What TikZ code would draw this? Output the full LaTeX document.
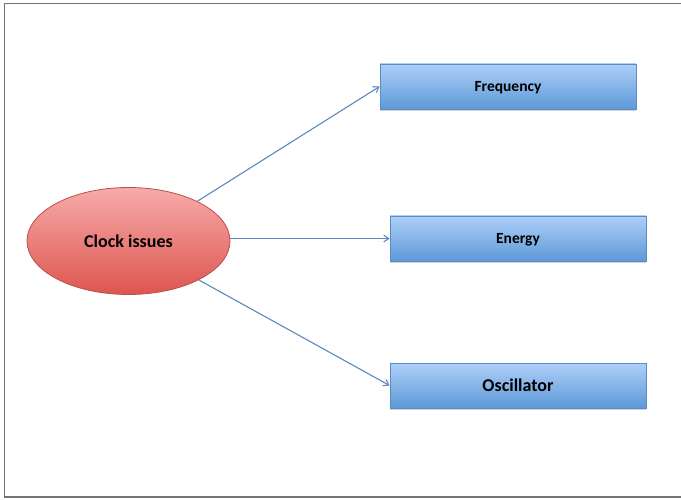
\documentclass[tikz,border=0pt]{standalone}
\usepackage{fontspec}
\setmainfont{Carlito}
\usetikzlibrary{arrows.meta,shadows,shapes.geometric}

\definecolor{boxtop}{HTML}{AECFF8}
\definecolor{boxbot}{HTML}{5D99D8}
\definecolor{boxline}{HTML}{5A8CC6}
\definecolor{elltop}{HTML}{F7ABAA}
\definecolor{ellbot}{HTML}{DD5550}
\definecolor{ellline}{HTML}{B8504C}
\definecolor{arcline}{HTML}{5B89BE}

\begin{document}
\begin{tikzpicture}[
  x=1pt,y=-1pt,
  >={Straight Barb[length=5pt,width=7pt]},
  topic/.style={rectangle,draw=boxline,line width=0.8pt,top color=boxtop,bottom color=boxbot,
    minimum width=256pt,minimum height=45pt,inner sep=0pt,text depth=0pt,font=\bfseries,
    drop shadow={shadow xshift=0pt,shadow yshift=-2pt,opacity=0.35}},
  hub/.style={ellipse,draw=ellline,line width=0.8pt,top color=elltop,bottom color=ellbot,
    minimum width=203pt,minimum height=107pt,inner sep=0pt,font=\bfseries\fontsize{18}{20}\selectfont},
  arc/.style={->,line width=1.1pt,draw=arcline}
]
\useasboundingbox (0,0) rectangle (681,500);
\draw[line width=1.5pt,draw=black!55] (681,3.5) -- (4.5,3.5) -- (4.5,497) -- (681,497);
\node[hub] (clock) at (128.5,241) {Clock issues};
\node[topic,font=\bfseries\fontsize{15.5}{17}\selectfont] (freq) at (508,86.5) {Frequency};
\node[topic,font=\bfseries\fontsize{15.5}{17}\selectfont] (energy) at (518,238.5) {Energy};
\node[topic,font=\bfseries\fontsize{18}{20}\selectfont] (osc) at (518,385.5) {Oscillator};
\draw[arc] (clock.30) -- (freq.west);
\draw[arc] (clock.east |- energy.west) -- (energy.west);
\draw[arc] (clock.-29) -- (osc.west);
\end{tikzpicture}
\end{document}
